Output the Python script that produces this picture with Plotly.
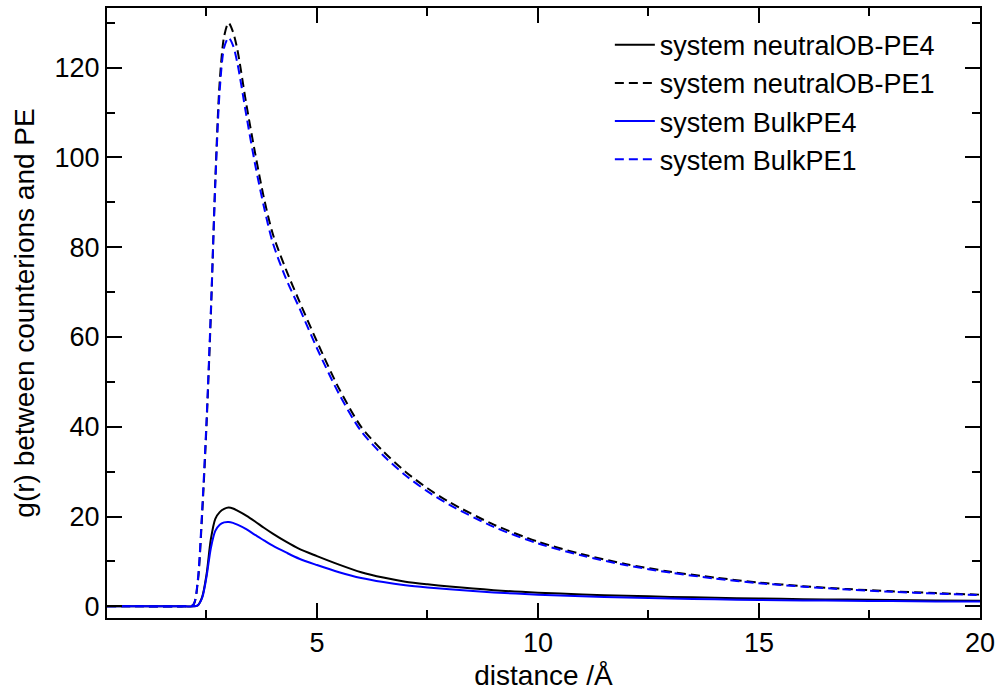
import plotly.graph_objects as go

# distance (Å)
r = [0.25, 1.0, 2.0, 2.2, 2.3, 2.4, 2.5, 2.6, 2.7, 2.8, 2.9, 3.0, 3.1, 3.2, 3.4, 3.6, 3.8,
     4.0, 4.3, 4.6, 5.0, 5.5, 6.0, 6.5, 7.0, 7.5, 8.0, 9.0, 10, 11, 12, 13, 14, 15, 16,
     17, 18, 19, 20]

g_neutral_pe4 = [0, 0, 0, 0, 0.2, 2.0, 7.0, 15.0, 19.5, 21.0, 21.7, 22.0, 21.8, 21.3, 20.2,
                 18.9, 17.5, 16.2, 14.4, 12.8, 11.2, 9.3, 7.6, 6.4, 5.5, 4.9, 4.4, 3.6, 3.05,
                 2.65, 2.35, 2.1, 1.9, 1.75, 1.6, 1.5, 1.4, 1.32, 1.25]

g_neutral_pe1 = [0, 0, 0, 0.3, 5.0, 20.0, 40.0, 65.0, 95.0, 117.0, 127.0, 130.0, 128.0, 124.0,
                 112.0, 101.0, 91.0, 83.0, 75.0, 68.0, 59.0, 48.5, 40.0, 34.5, 30.0, 26.3, 23.2,
                 18.2, 14.4, 11.6, 9.4, 7.7, 6.4, 5.3, 4.5, 3.85, 3.35, 2.95, 2.6]

g_bulk_pe4 = [0, 0, 0, 0, 0.2, 1.8, 6.5, 13.0, 16.8, 18.2, 18.7, 18.8, 18.6, 18.2, 17.2, 15.9,
              14.7, 13.5, 12.0, 10.6, 9.2, 7.6, 6.3, 5.4, 4.7, 4.2, 3.8, 3.1, 2.6, 2.25, 1.95,
              1.75, 1.55, 1.42, 1.32, 1.23, 1.16, 1.1, 1.05]

g_bulk_pe1 = [0, 0, 0, 0.3, 5.5, 21.0, 41.0, 66.0, 94.0, 115.0, 124.5, 126.7, 125.0, 121.0,
              109.5, 98.5, 89.0, 81.0, 73.0, 66.5, 57.5, 47.3, 39.0, 33.6, 29.2, 25.6, 22.6,
              17.7, 14.0, 11.3, 9.15, 7.5, 6.2, 5.15, 4.38, 3.75, 3.25, 2.85, 2.5]

names = ["system neutralOB-PE4", "system neutralOB-PE1", "system BulkPE4", "system BulkPE1"]
series = [g_neutral_pe4, g_neutral_pe1, g_bulk_pe4, g_bulk_pe1]
colors = ["#000000", "#000000", "#0000ff", "#0000ff"]
dashes = ["solid", "9px,5px", "solid", "9px,5px"]

FONT = "Liberation Sans, Arial, sans-serif"

fig = go.Figure()
for name, y, c, d in zip(names, series, colors, dashes):
    fig.add_trace(go.Scatter(x=r, y=y, mode="lines", name=name,
                             line=dict(color=c, width=2, dash=d, shape="spline", smoothing=0.8)))

axis_common = dict(showline=True, linecolor="black", linewidth=2, mirror="ticks",
                   ticks="inside", ticklen=15, tickwidth=1.5, tickcolor="black",
                   showgrid=False, zeroline=False,
                   tickfont=dict(family=FONT, size=27, color="black"))

fig.update_xaxes(range=[0.25, 20], tickvals=[5, 10, 15, 20],
                 minor=dict(tickvals=[2.5, 7.5, 12.5, 17.5], ticks="inside", ticklen=8,
                            tickwidth=1.5, tickcolor="black", showgrid=False),
                 title=dict(text="distance /Å", font=dict(family=FONT, size=28, color="black"),
                            standoff=8),
                 **axis_common)
fig.update_yaxes(range=[-2.6, 133.3], tickvals=[0, 20, 40, 60, 80, 100, 120],
                 minor=dict(tickvals=[10, 30, 50, 70, 90, 110, 130], ticks="inside", ticklen=8,
                            tickwidth=1.5, tickcolor="black", showgrid=False),
                 title=dict(text="g(r) between counterions and PE",
                            font=dict(family=FONT, size=28, color="black"), standoff=12),
                 **axis_common)

fig.update_layout(
    width=1001, height=692,
    margin=dict(l=107, r=19, t=6, b=72),
    paper_bgcolor="white", plot_bgcolor="white",
    font=dict(family=FONT, color="black"),
    legend=dict(x=0.576, y=0.979, xanchor="left", yanchor="top",
                bgcolor="rgba(0,0,0,0)", borderwidth=0,
                font=dict(family=FONT, size=27, color="black"),
                itemwidth=40, tracegroupgap=0),
)

fig.write_html("out.html")
